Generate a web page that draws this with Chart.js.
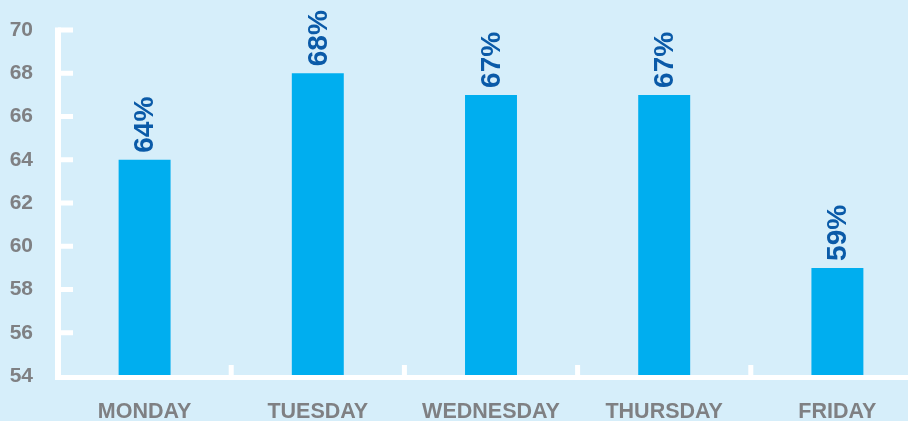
<!DOCTYPE html>
<html>
<head>
<meta charset="utf-8">
<script src="https://cdn.jsdelivr.net/npm/chart.js@4"></script>
<style>
  html, body { margin: 0; padding: 0; background: #d6eefa; overflow: hidden; }
  #wrap { width: 924px; height: 421px; position: relative; }
</style>
</head>
<body>
<div id="wrap"><canvas id="chart"></canvas></div>
<script>
const days = ["MONDAY", "TUESDAY", "WEDNESDAY", "THURSDAY", "FRIDAY"];
const percents = [64, 68, 67, 67, 59];
const yTicks = [54, 56, 58, 60, 62, 64, 66, 68, 70];

const colors = {
  bar: "#00aeef",
  label: "#0a5aa8",
  axisText: "#7f8083",
  axis: "#ffffff",
};
const FONT = "'Liberation Sans', Arial, Helvetica, sans-serif";

// white axes with short ticks pointing into the plot
const axisPlugin = {
  id: "axisLines",
  afterDatasetsDraw(chart) {
    const { ctx, chartArea, scales } = chart;
    const x = scales.x, y = scales.y;
    ctx.save();
    ctx.fillStyle = colors.axis;
    const top = y.getPixelForValue(yTicks[yTicks.length - 1]);
    const bottom = y.getPixelForValue(yTicks[0]);
    ctx.fillRect(chartArea.left - 3, top - 2.5, 6, bottom - top + 5);
    ctx.fillRect(chartArea.left - 3, bottom - 1, chart.width, 5);
    yTicks.slice(1).forEach((v) => {
      const py = y.getPixelForValue(v);
      ctx.fillRect(chartArea.left, py - 2.5, 15, 5);
    });
    for (let i = 1; i < days.length; i++) {
      const px = (x.getPixelForTick(i - 1) + x.getPixelForTick(i)) / 2;
      ctx.fillRect(px - 2.5, bottom - 11, 5, 11);
    }
    ctx.restore();
  },
};

const valueLabels = {
  id: "valueLabels",
  afterDatasetsDraw(chart) {
    const { ctx } = chart;
    const meta = chart.getDatasetMeta(0);
    ctx.save();
    ctx.fillStyle = colors.label;
    ctx.font = "bold 28px " + FONT;
    ctx.textAlign = "left";
    ctx.textBaseline = "middle";
    meta.data.forEach((bar, i) => {
      ctx.save();
      ctx.translate(bar.x + 1, bar.y - 7);
      ctx.rotate(-Math.PI / 2);
      ctx.fillText(percents[i] + "%", 0, 0);
      ctx.restore();
    });
    ctx.restore();
  },
};

new Chart(document.getElementById("chart"), {
  type: "bar",
  data: {
    labels: days,
    datasets: [{
      data: percents,
      backgroundColor: colors.bar,
      borderWidth: 0,
      barPercentage: 0.3,
      categoryPercentage: 1,
    }],
  },
  options: {
    responsive: true,
    maintainAspectRatio: false,
    animation: false,
    layout: { padding: { top: 30, right: 0, bottom: 0, left: 0 } },
    plugins: { legend: { display: false }, tooltip: { enabled: false } },
    scales: {
      x: {
        grid: { display: false, drawTicks: false },
        border: { display: false },
        ticks: { color: colors.axisText, font: { family: FONT, size: 21.5, weight: "bold" }, padding: 23 },
        afterFit: (scale) => { scale.height = 45; },
      },
      y: {
        min: 54,
        max: 70,
        grid: { display: false, drawTicks: false },
        border: { display: false },
        afterBuildTicks: (scale) => { scale.ticks = yTicks.map((v) => ({ value: v })); },
        ticks: { color: colors.axisText, font: { family: FONT, size: 21, weight: "bold" }, padding: 25 },
        afterFit: (scale) => {
          scale.width = 58;
          scale.paddingTop = 0;
          scale.paddingBottom = 0;
        },
      },
    },
  },
  plugins: [axisPlugin, valueLabels],
});
</script>
</body>
</html>
